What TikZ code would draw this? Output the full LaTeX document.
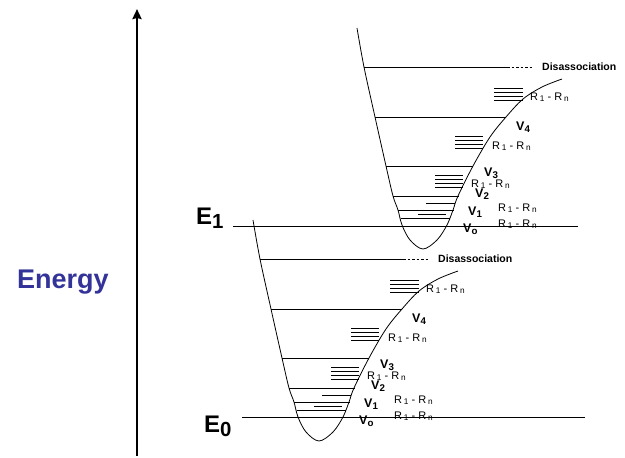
\documentclass[tikz,border=0pt]{standalone}
\usepackage{fontspec}
\usepackage{graphicx}
\setmainfont{Liberation Sans}
\usetikzlibrary{arrows.meta}
\definecolor{energyblue}{HTML}{333399}
\newcommand\lsub[3]{\raisebox{-#2em}{\scalebox{#1}{#3}}}
\newcommand\vsub[1]{\lsub{0.78}{0.2}{#1}}
\newcommand\rsub[1]{\lsub{0.75}{0.17}{#1}}
\newcommand\rr{R\,\rsub{1} - R\,\rsub{n}}
\newcommand\wellunit[1]{%
  % potential curve
  \draw[curve] plot[smooth,tension=0.55] coordinates {(357,28) (364,67) (375,117) (386,166) (393,196) (398,210) (402,225) (410,240) (423,249) (437,240) (447,225) (453,210) (458,196) (473,166) (490,137) (506,117) (523,99) (542,87) (562,79)};
  % dissociation level
  \coordinate (#1d0) at (364,67); \coordinate (#1d1) at (507,67); \coordinate (#1d2) at (533,67);
  \draw[lvl] (#1d0) -- (#1d1);
  \draw[lvl,dash pattern=on 2.5pt off 2pt] (#1d1) -- (#1d2);
  \node[dislbl] (#1dis) at (542,70.5) {Disassociation};
  % vibrational levels
  \draw[lvl] (375,117) -- (506,117);
  \draw[lvl] (386,166) -- (473,166);
  \draw[lvl] (393,196) -- (459,196);
  \draw[lvl] (426,203) -- (455,203);
  \draw[lvl] (398,210) -- (454,210);
  \draw[lvl] (418,214) -- (446,214);
  \draw[lvl] (401,218) -- (450,218);
  % rotational groups
  \foreach \yy in {88,92,96,100} \draw[lvl] (494,\yy) -- (523,\yy);
  \foreach \yy in {136,140,144,148} \draw[lvl] (455,\yy) -- (483,\yy);
  \foreach \yy in {175,179,183,187} \draw[lvl] (435,\yy) -- (463,\yy);
  % labels
  \node[rlbl] (#1r1) at (530,100) {\rr};
  \node[vlbl] (#1v4) at (516,130) {V\vsub{4}};
  \node[rlbl] (#1r2) at (492,149) {\rr};
  \node[vlbl] (#1v3) at (484,176) {V\vsub{3}};
  \node[rlbl] (#1r3) at (471,187) {\rr};
  \node[vlbl] (#1v2) at (475,197) {V\vsub{2}};
  \node[rlbl] (#1r4) at (498,211) {\rr};
  \node[vlbl] (#1v1) at (468,215) {V\vsub{1}};
  \node[rlbl] (#1r5) at (498,227) {\rr};
  \node[vlbl] (#1v0) at (463,232) {V\vsub{o}};
}
\begin{document}
\begin{tikzpicture}[x=1pt,y=-1pt,
  lvl/.style={line width=0.8pt},
  curve/.style={line width=0.8pt},
  dislbl/.style={anchor=base west,inner sep=0pt,font=\fontsize{10.5}{12}\selectfont\bfseries},
  rlbl/.style={anchor=base west,inner sep=0pt,font=\fontsize{11}{13}\selectfont},
  vlbl/.style={anchor=base west,inner sep=0pt,font=\fontsize{12.5}{14}\selectfont\bfseries},
  elbl/.style={anchor=base west,inner sep=0pt,font=\fontsize{24}{28}\selectfont\bfseries},
  axis/.style={line width=2.6pt,-{Stealth[length=10pt,width=9pt,inset=1pt]}}]
\useasboundingbox (0,0) rectangle (625,458);
% energy axis
\coordinate (ab) at (137,456);
\coordinate (at) at (137,9);
\draw[axis] (ab) -- (at);
\node[anchor=base west,inner sep=0pt,text=energyblue,font=\fontsize{27}{30}\selectfont\bfseries] (energy) at (17,288) {Energy};
% electronic levels
\coordinate (e1a) at (233,226); \coordinate (e1b) at (578,226);
\coordinate (e0a) at (242,417); \coordinate (e0b) at (585,417);
\draw[lvl] (e1a) -- (e1b);
\draw[lvl] (e0a) -- (e0b);
\node[elbl] (E1) at (196,224) {E\lsub{0.85}{0.2}{1}};
\node[elbl] (E0) at (204,432) {E\lsub{0.85}{0.2}{0}};
% upper and lower wells
\begin{scope}
\wellunit{u}
\end{scope}
\begin{scope}[shift={(-104,192)}]
\wellunit{l}
\end{scope}
\end{tikzpicture}
\end{document}
